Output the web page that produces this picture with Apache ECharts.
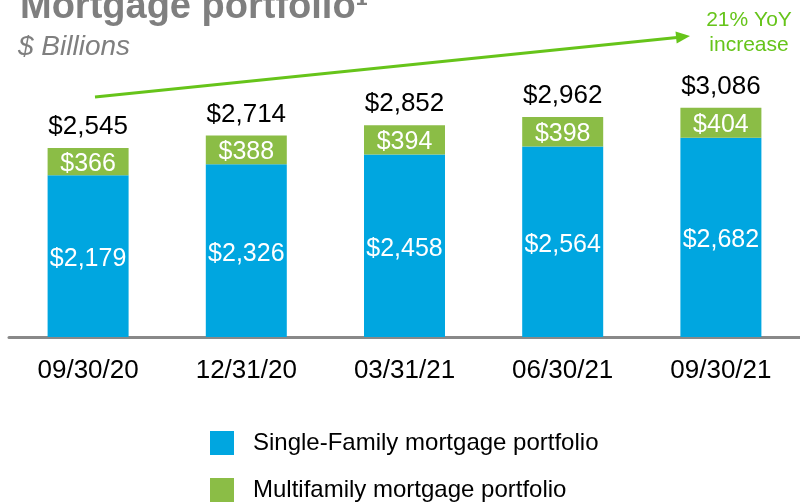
<!DOCTYPE html>
<html>
<head>
<meta charset="utf-8">
<script src="https://cdn.jsdelivr.net/npm/echarts@6/dist/echarts.min.js"></script>
<style>html,body{margin:0;padding:0;background:#fff}#c{width:800px;height:503px}</style>
</head>
<body>
<div id="c"></div>
<script>
var categories = ['09/30/20', '12/31/20', '03/31/21', '06/30/21', '09/30/21'];
var singleFamily = [2179, 2326, 2458, 2564, 2682];
var multifamily = [366, 388, 394, 398, 404];
var totals = [2545, 2714, 2852, 2962, 3086];
var seriesNames = ['Single-Family mortgage portfolio', 'Multifamily mortgage portfolio'];

function fmt(v) { return '$' + v.toLocaleString('en-US'); }

var chart = echarts.init(document.getElementById('c'));
var FONT = '"Liberation Sans", Arial, sans-serif';
var GREEN_TXT = '#66c41a';
function legendAt(name, top) {
  return {
    orient: 'vertical', left: 210, top: top, padding: 0,
    itemWidth: 24, itemHeight: 24, icon: 'rect',
    data: [name],
    textStyle: { fontSize: 24, color: '#000', padding: [0, 0, 0, 14], fontFamily: FONT }
  };
}
chart.setOption({
  animation: false,
  textStyle: { fontFamily: FONT },
  grid: { left: 9, right: -2, top: 40, bottom: 166 },
  xAxis: {
    type: 'category',
    data: categories,
    axisLine: { lineStyle: { color: '#898989', width: 3 } },
    axisTick: { show: false },
    axisLabel: { color: '#000', fontSize: 26, margin: 21, fontFamily: FONT }
  },
  yAxis: { type: 'value', min: 0, max: 4000, show: false, splitLine: { show: false } },
  legend: [legendAt(seriesNames[0], 431), legendAt(seriesNames[1], 478)],
  series: [
    {
      name: seriesNames[0], type: 'bar', stack: 'a', barWidth: 81,
      data: singleFamily, itemStyle: { color: '#00a6e0' },
      label: { show: true, position: 'inside', offset: [0, 3], color: '#fff', fontSize: 25, formatter: function (p) { return fmt(p.value); } }
    },
    {
      name: seriesNames[1], type: 'bar', stack: 'a', barWidth: 81,
      data: multifamily, itemStyle: { color: '#8bbd46' },
      label: { show: true, position: 'inside', offset: [0, 2], color: '#fff', fontSize: 25, formatter: function (p) { return fmt(p.value); } }
    },
    {
      name: 'Total', type: 'bar', stack: 'a', barWidth: 81,
      data: totals.map(function () { return 0; }),
      itemStyle: { color: 'transparent' },
      label: { show: true, position: 'top', distance: 8, color: '#000', fontSize: 26,
        formatter: function (p) { return fmt(totals[p.dataIndex]); } }
    }
  ],
  graphic: [
    { type: 'text', left: 20, top: -11, style: { text: 'Mortgage portfolio¹', font: 'bold 38px ' + FONT, fill: '#7f7f7f' } },
    { type: 'text', left: 18, top: 33, style: { text: '$ Billions', font: 'italic 28px ' + FONT, fill: '#7f7f7f' } },
    { type: 'line', shape: { x1: 95, y1: 97, x2: 677, y2: 37.5 }, style: { stroke: GREEN_TXT, lineWidth: 3 } },
    { type: 'polygon', shape: { points: [[690, 36], [676.7, 43.4], [675.5, 31.4]] }, style: { fill: GREEN_TXT } },
    { type: 'text', x: 749, y: 8, style: { text: '21% YoY\nincrease', font: '21px ' + FONT, fill: GREEN_TXT, align: 'center', lineHeight: 25 } }
  ]
});
</script>
</body>
</html>
